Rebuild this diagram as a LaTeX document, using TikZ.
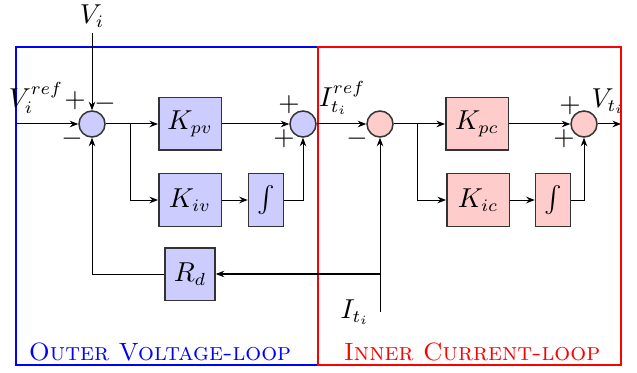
\documentclass[tikz,border=0pt]{standalone}
\usepackage{amsmath,amssymb}
\usetikzlibrary{arrows.meta,calc,positioning}
\tikzset{
  block/.style={draw=black!80,semithick,rectangle,minimum width=25pt,minimum height=21pt,align=center},
  intblock/.style={block,minimum width=14pt},
  sum/.style={draw=black!80,semithick,circle,minimum size=10.4pt,inner sep=0pt},
  sgn/.style={inner sep=0pt},
  looptitle/.style={font=\normalsize\scshape}
}
\begin{document}
\begin{tikzpicture}[>={Stealth[length=3.4pt,width=2.6pt]},x=0.4pt,y=-0.4pt,
    font=\fontsize{10.5}{12.5}\selectfont]
  \useasboundingbox (0,0) rectangle (637,372);
  % loop frames
  \draw[blue,thick] (16,47) rectangle (318,365);
  \draw[red,thick] (318,47) rectangle (621,365);
  \node[looptitle,blue] (tv) at (160,352) {Outer Voltage-loop};
  \node[looptitle,red] (tc) at (472,352) {Inner Current-loop};
  % outer voltage loop
  \node[sum,fill=blue!20] (sv1) at (92,124) {};
  \node[sum,fill=blue!20] (sv2) at (303,124) {};
  \node[block,fill=blue!20] (kpv) at (190,124) {$K_{pv}$};
  \node[block,fill=blue!20] (kiv) at (190,200) {$K_{iv}$};
  \node[intblock,fill=blue!20] (intv) at (266,200) {$\int$};
  \node[block,fill=blue!20,minimum width=20pt] (rd) at (190,274) {$R_d$};
  % inner current loop
  \node[sum,fill=red!20] (sc1) at (380,124) {};
  \node[sum,fill=red!20] (sc2) at (584,124) {};
  \node[block,fill=red!20] (kpc) at (477,124) {$K_{pc}$};
  \node[block,fill=red!20] (kic) at (478,200) {$K_{ic}$};
  \node[intblock,fill=red!20] (intc) at (553,200) {$\int$};
  % signals
  \coordinate (in) at (16,124);
  \coordinate (vi) at (92,33);
  \coordinate (bv) at (130,124);
  \coordinate (bc) at (417,124);
  \coordinate (it) at (380,312);
  \coordinate (jt) at (380,274);
  \coordinate (out) at (621,124);
  \draw[->] (in) -- (sv1);
  \draw[->] (vi) -- (sv1);
  \draw[->] (sv1) -- (kpv);
  \draw[->] (bv) |- (kiv);
  \draw[->] (kpv) -- (sv2);
  \draw[->] (kiv) -- (intv);
  \draw[->] (intv) -| (sv2);
  \draw[->] (sv2) -- (sc1);
  \draw[->] (sc1) -- (kpc);
  \draw[->] (bc) |- (kic);
  \draw[->] (kpc) -- (sc2);
  \draw[->] (kic) -- (intc);
  \draw[->] (intc) -| (sc2);
  \draw[->] (sc2) -- (out);
  \draw[->] (it) -- (sc1);
  \draw[->,semithick] (jt) -- (rd);
  \draw[->] (rd) -| (sv1);
  % labels
  \node (lvi) at (92,16) {$V_i$};
  \node (lviref) at (36,98) {$V_i^{ref}$};
  \node (litref) at (342,98) {$I_{t_i}^{ref}$};
  \node (lvt) at (608,101) {$V_{t_i}$};
  \node (lit) at (355,312) {$I_{t_i}$};
  \node[sgn] (p1) at (75,101) {$+$};
  \node[sgn] (m1) at (105,104) {$-$};
  \node[sgn] (m2) at (72,139) {$-$};
  \node[sgn] (p2) at (289,105) {$+$};
  \node[sgn] (p3) at (284,139) {$+$};
  \node[sgn] (m3) at (357,139) {$-$};
  \node[sgn] (p4) at (570,106) {$+$};
  \node[sgn] (p5) at (564,139) {$+$};
\end{tikzpicture}
\end{document}
